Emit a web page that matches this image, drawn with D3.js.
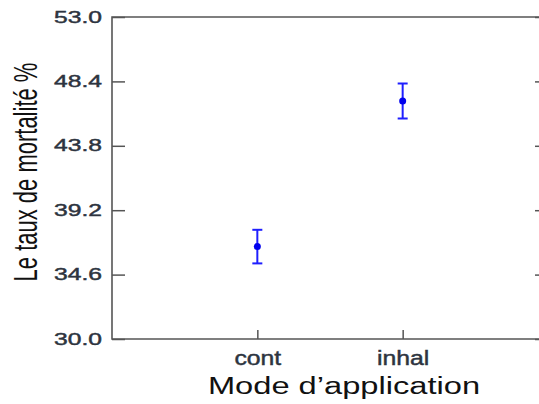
<!DOCTYPE html>
<html>
<head>
<meta charset="utf-8">
<script src="https://cdn.jsdelivr.net/npm/d3@7"></script>
<style>
  body { margin: 0; background: #fff; }
  svg { display: block; }
  text { font-family: "Liberation Sans", Arial, sans-serif; }
</style>
</head>
<body>
<div id="chart"></div>
<script>
// Data
var categories = ["cont", "inhal"];
var means = [36.6, 47.0];
var errors = [1.2, 1.25];
var yTicks = [30.0, 34.6, 39.2, 43.8, 48.4, 53.0];

var W = 539, H = 404;
var mLeft = 112, mRight = 548, mTop = 17, mBottom = 339;
var axisColor = "#555";
var labelColor = "#2d3440";
var blue = "#1f1fff";

var svg = d3.select("#chart").append("svg")
  .attr("width", W).attr("height", H);

var x = d3.scalePoint().domain(categories).range([mLeft, mRight]).padding(1);
var y = d3.scaleLinear().domain([30, 53]).range([mBottom, mTop]);

// Left axis, ticks pointing inward
var gy = svg.append("g").attr("transform", "translate(" + mLeft + ",0)")
  .call(d3.axisLeft(y).tickValues(yTicks).tickSize(-13).tickFormat(d3.format(".1f")));
gy.select(".domain").remove();
gy.selectAll(".tick line").attr("stroke", axisColor).attr("stroke-width", 1.5);
gy.selectAll(".tick text")
  .attr("x", 0).attr("dy", "0.3em")
  .attr("transform", "translate(-10,0) scale(1.45,1)")
  .attr("fill", labelColor)
  .attr("stroke", labelColor).attr("stroke-width", 0.45)
  .style("font-size", "17px");

// Right axis, unlabeled ticks
var gr = svg.append("g").attr("transform", "translate(" + mRight + ",0)")
  .call(d3.axisRight(y).tickValues(yTicks).tickSize(-13).tickFormat(""));
gr.select(".domain").remove();
gr.selectAll(".tick line").attr("stroke", axisColor).attr("stroke-width", 1.5);

// Bottom axis
var gx = svg.append("g").attr("transform", "translate(0," + mBottom + ")")
  .call(d3.axisBottom(x).tickSize(-9));
gx.select(".domain").remove();
gx.selectAll(".tick line").attr("stroke", axisColor).attr("stroke-width", 1.5);
gx.selectAll(".tick text")
  .attr("y", 0).attr("dy", null)
  .attr("transform", "translate(0,26) scale(1.18,1)")
  .attr("fill", labelColor)
  .attr("stroke", labelColor).attr("stroke-width", 0.45)
  .style("font-size", "21px");

// Frame
svg.append("path")
  .attr("d", "M" + mRight + "," + mTop + "H" + mLeft + "V" + mBottom + "H" + mRight + "Z")
  .attr("fill", "none")
  .attr("stroke", axisColor)
  .attr("stroke-width", 1.6);

// Error bars and means
var pts = categories.map(function (c, i) {
  return { cat: c, mean: means[i], err: errors[i] };
});
var marks = svg.append("g");
pts.forEach(function (d) {
  var cx = x(d.cat);
  var y1 = y(d.mean + d.err), y0 = y(d.mean - d.err);
  marks.append("line")
    .attr("x1", cx).attr("x2", cx).attr("y1", y1).attr("y2", y0)
    .attr("stroke", blue).attr("stroke-width", 2);
  [y1, y0].forEach(function (yy) {
    marks.append("line")
      .attr("x1", cx - 5).attr("x2", cx + 5).attr("y1", yy).attr("y2", yy)
      .attr("stroke", blue).attr("stroke-width", 2);
  });
  marks.append("circle")
    .attr("cx", cx).attr("cy", y(d.mean)).attr("r", 3.5)
    .attr("fill", "#0000ee");
});

// Axis titles
svg.append("text")
  .attr("transform", "translate(344,393.5) scale(1.42,1)")
  .attr("text-anchor", "middle")
  .attr("fill", "#111")
  .style("font-size", "23px")
  .text("Mode d\u2019application");

svg.append("text")
  .attr("transform", "translate(37,172) scale(1.5,1) rotate(-90)")
  .attr("text-anchor", "middle")
  .attr("fill", "#111")
  .style("font-size", "22px")
  .text("Le taux de mortalité %");
</script>
</body>
</html>
